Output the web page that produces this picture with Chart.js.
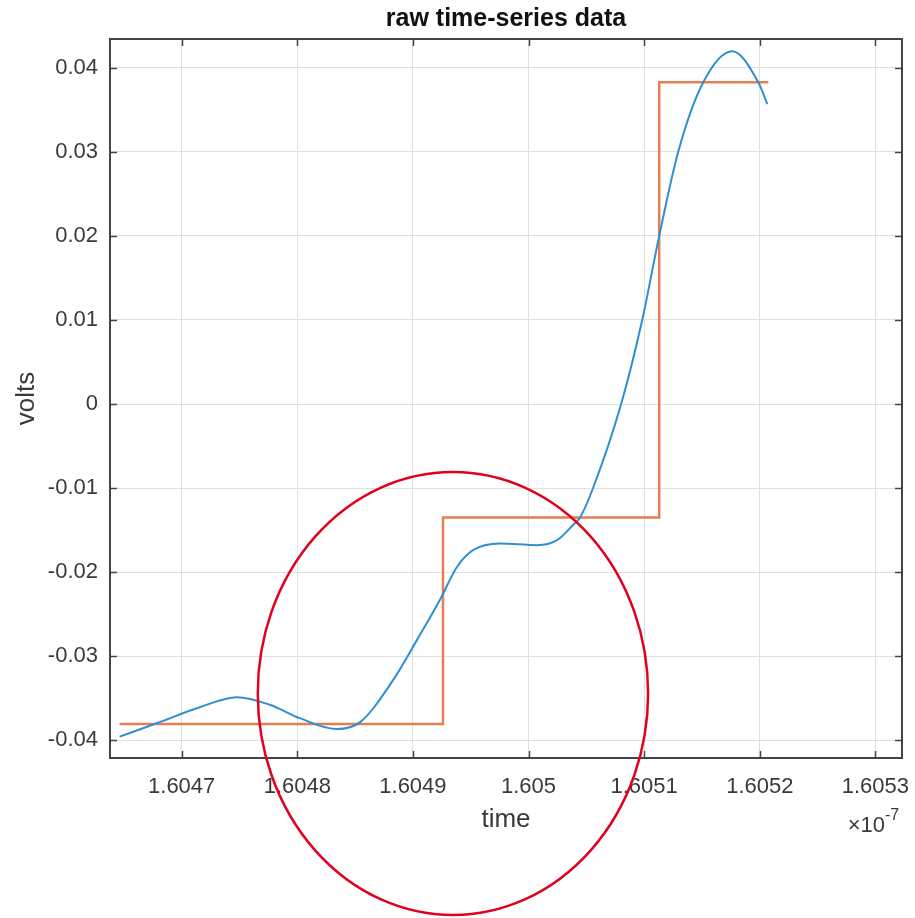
<!DOCTYPE html>
<html>
<head>
<meta charset="utf-8">
<title>raw time-series data</title>
<script src="https://cdn.jsdelivr.net/npm/chart.js@4/dist/chart.umd.min.js"></script>
<style>
  html, body { margin: 0; padding: 0; background: #fff; }
  #wrap { width: 915px; height: 918px; }
</style>
</head>
<body>
<div id="wrap"><canvas id="myChart" width="915" height="918"></canvas></div>
<script>
'use strict'

// time is in units of 1e-7 s (axis shows x 10^-7)
let signalTime = [1.6046463, 1.6046784, 1.6047156, 1.6047476, 1.6047762, 1.6048022, 1.6048342, 1.6048541,
    1.6048827, 1.6049043, 1.6049234, 1.6049381, 1.6049519, 1.6049753, 1.6050074, 1.6050247, 1.6050385,
    1.6050446, 1.6050558, 1.6050801, 1.6050983, 1.605113, 1.6051294,
    1.6051511, 1.6051762, 1.6051987, 1.6052065];
let signalVolts = [-0.0396, -0.0380, -0.0361, -0.0349, -0.0358, -0.0374, -0.0387, -0.0379,
    -0.0329, -0.0279, -0.0233, -0.0194, -0.0174, -0.0166, -0.0168, -0.0162, -0.0144,
    -0.0135, -0.0100, 0.0000, 0.0100, 0.0200, 0.0300,
    0.0383, 0.0420, 0.0383, 0.0357];

// quantized step levels
let stepTime = [1.6046463, 1.604926, 1.605113, 1.6052074];
let stepVolts = [-0.0381, -0.0135, 0.0383, 0.0383];

let xTickValues = [1.6047, 1.6048, 1.6049, 1.605, 1.6051, 1.6052, 1.6053];
let yTickValues = [-0.04, -0.03, -0.02, -0.01, 0, 0.01, 0.02, 0.03, 0.04];

// red hand-drawn circle, centre and radii in data units
let markCenter = [1.6049346, -0.03446];
let markRadius = [0.0001688, 0.02637];

let fontFamily = 'Liberation Sans, Arial, Helvetica, sans-serif';
let textColor = '#3a3a3a';
let axisColor = '#444444';

function toPoints(xs, ys) {
    let pts = [];
    for (let i = 0; i < xs.length; i++) {
        pts.push({ x: xs[i], y: ys[i] });
    }
    return pts;
}

// box round the axes, inward tick marks, title and exponent, like the original figure
let boxPlugin = {
    id: 'box',
    afterDraw(chart) {
        let ctx = chart.ctx;
        let a = chart.chartArea;
        let xs = chart.scales.x;
        let ys = chart.scales.y;
        ctx.save();
        ctx.strokeStyle = axisColor;
        ctx.lineWidth = 2;
        ctx.strokeRect(a.left, a.top, a.right - a.left, a.bottom - a.top);
        ctx.beginPath();
        xs.ticks.forEach((t, i) => {
            let px = Math.round(xs.getPixelForTick(i)) + 0.5;
            ctx.moveTo(px, a.bottom); ctx.lineTo(px, a.bottom - 7);
            ctx.moveTo(px, a.top); ctx.lineTo(px, a.top + 7);
        });
        ys.ticks.forEach((t, i) => {
            let py = Math.round(ys.getPixelForTick(i)) + 0.5;
            ctx.moveTo(a.left, py); ctx.lineTo(a.left + 7, py);
            ctx.moveTo(a.right, py); ctx.lineTo(a.right - 7, py);
        });
        ctx.lineWidth = 1.5;
        ctx.stroke();

        // title, centred over the axes
        ctx.fillStyle = '#111111';
        ctx.textAlign = 'center';
        ctx.textBaseline = 'middle';
        ctx.font = 'bold 25px ' + fontFamily;
        ctx.fillText('raw time-series data', (a.left + a.right) / 2, 19);

        // exponent label
        ctx.fillStyle = textColor;
        ctx.textBaseline = 'alphabetic';
        ctx.textAlign = 'right';
        ctx.font = '22px ' + fontFamily;
        ctx.fillText('\u00d710', a.right - 17, a.bottom + 74);
        ctx.textAlign = 'left';
        ctx.font = '16px ' + fontFamily;
        ctx.fillText('-7', a.right - 17, a.bottom + 62);

        // red annotation ellipse
        let cx = xs.getPixelForValue(markCenter[0]);
        let cy = ys.getPixelForValue(markCenter[1]);
        let rx = Math.abs(xs.getPixelForValue(markCenter[0] + markRadius[0]) - cx);
        let ry = Math.abs(ys.getPixelForValue(markCenter[1] + markRadius[1]) - cy);
        ctx.beginPath();
        ctx.ellipse(cx, cy, rx, ry, 0, 0, Math.PI * 2);
        ctx.strokeStyle = '#e0001f';
        ctx.lineWidth = 2.5;
        ctx.stroke();
        ctx.restore();
    }
};

let ctx = document.getElementById('myChart').getContext('2d');
let myChart = new Chart(ctx, {
    type: 'scatter',
    data: {
        datasets: [{
            label: 'raw',
            data: toPoints(signalTime, signalVolts),
            showLine: true,
            borderColor: '#2f8fd3',
            borderWidth: 2,
            pointRadius: 0,
            cubicInterpolationMode: 'monotone',
            fill: false
        }, {
            label: 'quantized',
            data: toPoints(stepTime, stepVolts),
            showLine: true,
            stepped: true,
            borderColor: '#e87d52',
            borderWidth: 2.5,
            pointRadius: 0,
            fill: false
        }]
    },
    options: {
        responsive: false,
        animation: false,
        layout: { padding: { left: 0, right: 13, top: 39, bottom: 0 } },
        plugins: {
            legend: { display: false },
            tooltip: { enabled: false },
            title: { display: false }
        },
        scales: {
            x: {
                type: 'linear',
                min: 1.604638,
                max: 1.605323,
                afterBuildTicks: (scale) => { scale.ticks = xTickValues.map(v => ({ value: v })); },
                afterFit: (scale) => {
                    scale.height = 160;
                    scale.paddingLeft = 0;
                    scale.paddingRight = 0;
                },
                grid: { color: '#e0e0e0', lineWidth: 1, drawTicks: false },
                border: { display: false },
                ticks: {
                    color: textColor,
                    padding: 16,
                    maxRotation: 0,
                    autoSkip: false,
                    font: { family: fontFamily, size: 22 },
                    callback: (v) => String(+Number(v).toFixed(4))
                },
                title: {
                    display: true,
                    text: 'time',
                    color: textColor,
                    font: { family: fontFamily, size: 26 },
                    padding: { top: 0, bottom: 83 }
                }
            },
            y: {
                type: 'linear',
                min: -0.04214,
                max: 0.04345,
                afterBuildTicks: (scale) => { scale.ticks = yTickValues.map(v => ({ value: v })); },
                afterFit: (scale) => {
                    scale.width = 110;
                    scale.paddingTop = 0;
                    scale.paddingBottom = 0;
                },
                grid: { color: '#e0e0e0', lineWidth: 1, drawTicks: false },
                border: { display: false },
                ticks: {
                    color: textColor,
                    padding: 12,
                    autoSkip: false,
                    font: { family: fontFamily, size: 22 },
                    callback: (v) => String(+Number(v).toFixed(2))
                },
                title: {
                    display: true,
                    text: 'volts',
                    color: textColor,
                    font: { family: fontFamily, size: 26 },
                    padding: { top: 11, bottom: 0 }
                }
            }
        }
    },
    plugins: [boxPlugin]
});
</script>
</body>
</html>
